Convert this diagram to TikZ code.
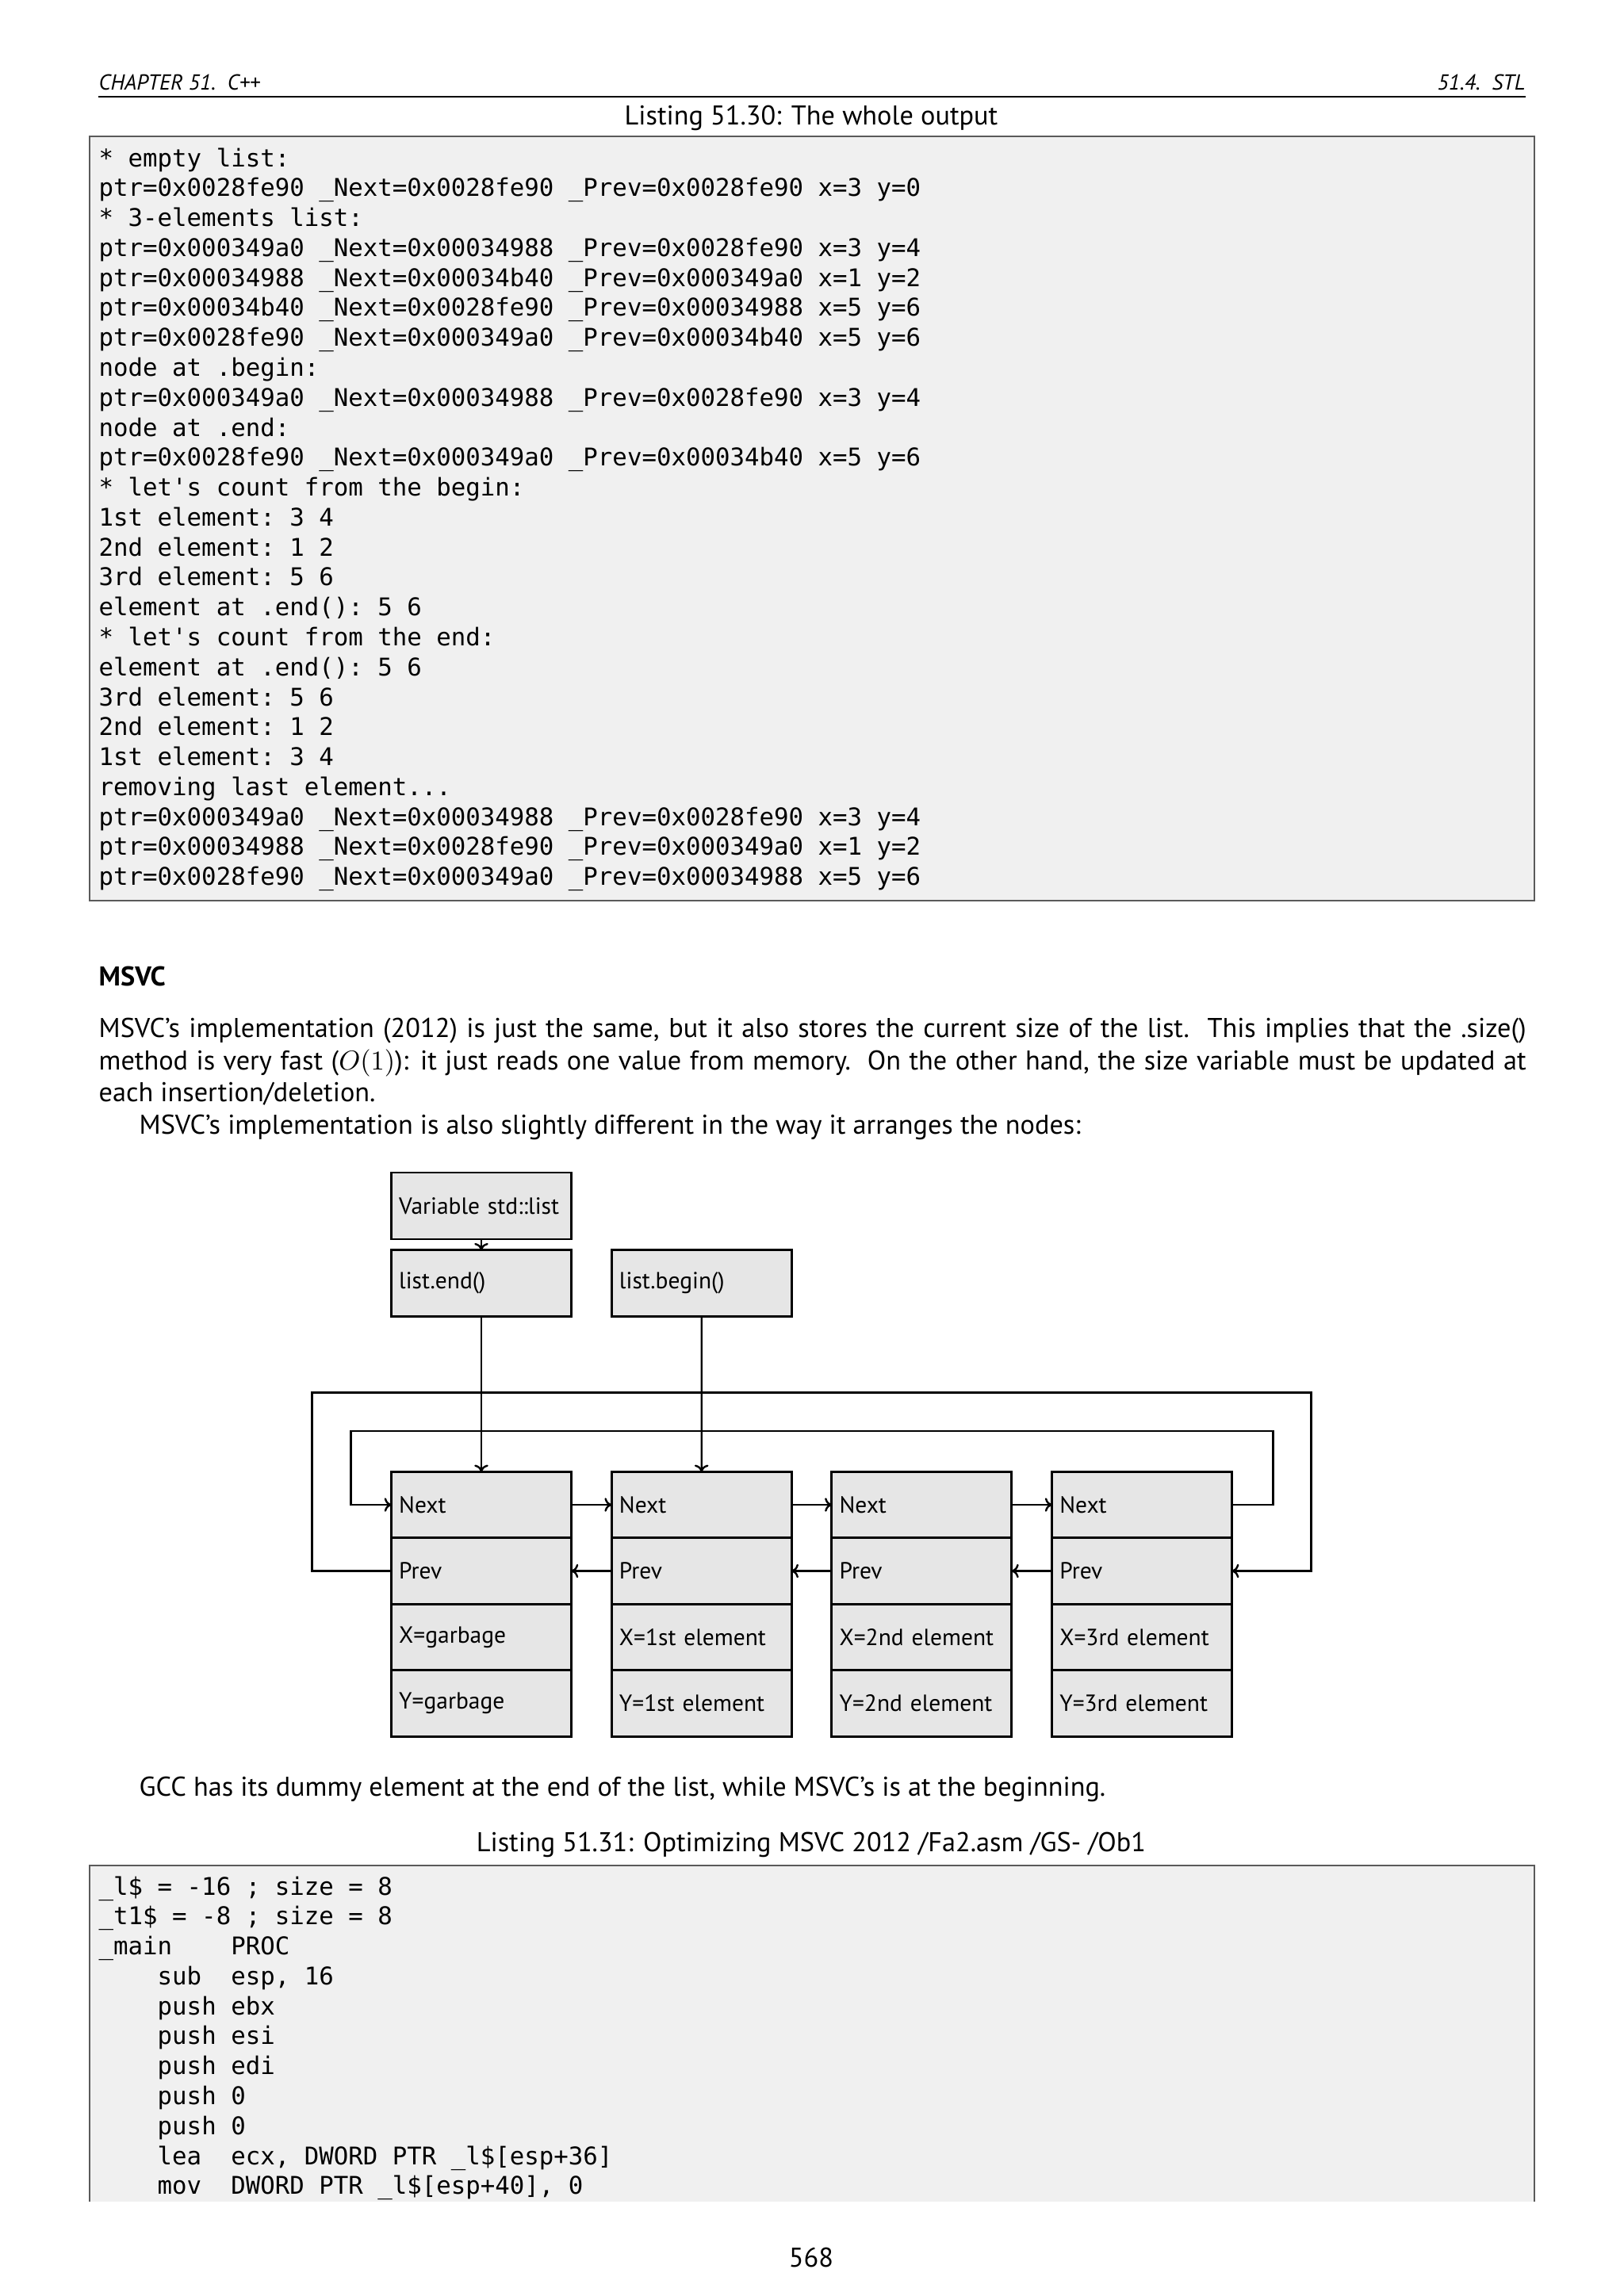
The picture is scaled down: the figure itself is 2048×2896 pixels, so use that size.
\documentclass[tikz,border=0pt]{standalone}
\usepackage{fontspec}
\setmainfont{PT Sans}
\setmonofont{DejaVu Sans Mono}
\usetikzlibrary{arrows.meta,positioning}
\definecolor{cellfill}{HTML}{E6E6E6}
\definecolor{codebg}{HTML}{F0F0F0}
\definecolor{frame}{HTML}{5A5A5A}

\begin{document}
\begin{tikzpicture}[x=0.010254cm,y=-0.010254cm,font=\fontsize{10}{11.84}\selectfont,
  cell/.style={draw,fill=cellfill,line width=0.85pt,minimum height=0.856cm,outer sep=0pt,
               text width=2.128cm,inner xsep=0.1cm,align=left,
               font=\fontsize{8.6}{10.5}\selectfont},
  ar/.style={-{To[length=0.9mm,width=1.8mm]},line width=0.7pt},
  codeln/.style={anchor=base west,inner sep=0,font=\ttfamily\fontsize{8.97}{11}\selectfont},
  txt/.style={anchor=base west,inner sep=0}]
\useasboundingbox[fill=white] (0,0) rectangle (2048,2896);

% running head
\node[txt,font=\footnotesize\itshape] (head) at (124,113) {CHAPTER 51.\ \ C++};
\node[anchor=base east,inner sep=0,font=\footnotesize\itshape] (sect) at (1924,113) {51.4.\ \ STL};
\draw[line width=0.5pt] (124,122) -- (1924,122);

% first listing
\node[anchor=base,inner sep=0] (cap1) at (1023,157) {Listing 51.30: The whole output};
\draw[fill=codebg,draw=frame,line width=0.6pt] (113,172) rectangle (1935,1136);
\foreach \ln [count=\i from 0] in {
  {* empty list:},
  {ptr=0x0028fe90 \_Next=0x0028fe90 \_Prev=0x0028fe90 x=3 y=0},
  {* 3-elements list:},
  {ptr=0x000349a0 \_Next=0x00034988 \_Prev=0x0028fe90 x=3 y=4},
  {ptr=0x00034988 \_Next=0x00034b40 \_Prev=0x000349a0 x=1 y=2},
  {ptr=0x00034b40 \_Next=0x0028fe90 \_Prev=0x00034988 x=5 y=6},
  {ptr=0x0028fe90 \_Next=0x000349a0 \_Prev=0x00034b40 x=5 y=6},
  {node at .begin:},
  {ptr=0x000349a0 \_Next=0x00034988 \_Prev=0x0028fe90 x=3 y=4},
  {node at .end:},
  {ptr=0x0028fe90 \_Next=0x000349a0 \_Prev=0x00034b40 x=5 y=6},
  {* let's count from the begin:},
  {1st element: 3 4},
  {2nd element: 1 2},
  {3rd element: 5 6},
  {element at .end(): 5 6},
  {* let's count from the end:},
  {element at .end(): 5 6},
  {3rd element: 5 6},
  {2nd element: 1 2},
  {1st element: 3 4},
  {removing last element.{}.{}.},
  {ptr=0x000349a0 \_Next=0x00034988 \_Prev=0x0028fe90 x=3 y=4},
  {ptr=0x00034988 \_Next=0x0028fe90 \_Prev=0x000349a0 x=1 y=2},
  {ptr=0x0028fe90 \_Next=0x000349a0 \_Prev=0x00034988 x=5 y=6}}
  \node[codeln] (out\i) at (124,{210+37.78*\i}) {\ln};

% MSVC section
\node[txt,font=\fontsize{10}{11.84}\selectfont\bfseries] (msvc) at (124,1243) {MSVC};
\node[anchor=north west,inner sep=0,text width=18.457cm,align=justify] (para) at (124,1279.6)
  {\strut MSVC's implementation (2012) is just the same, but it also stores the current size
   of the list.\ \ This implies that the .size()\linebreak method is very fast ($O(1)$): it just
   reads one value from memory.\ \ On the other hand, the size variable must be updated
   at\linebreak each insertion/deletion.};
\node[txt] (para2) at (175,1430) {MSVC's implementation is also slightly different in the way it arranges the nodes:};

% the diagram
\node[cell,minimum height=0.861cm] (var) at (607,1521) {Variable std::list};
\node[cell,below=0.14cm of var] (lend) {list.end()};
\node[cell,right=0.52cm of lend] (lbegin) {list.begin()};
\foreach \i/\xv/\yv in {0/X=garbage/Y=garbage,1/X=1st element/Y=1st element,
                        2/X=2nd element/Y=2nd element,3/X=3rd element/Y=3rd element}{
  \node[cell] (next\i) at ({607+277.7*\i},1898) {Next};
  \node[cell,below=0pt of next\i] (prev\i) {Prev};
  \node[cell,below=0pt of prev\i] (xval\i) {\xv};
  \node[cell,below=0pt of xval\i] (yval\i) {\yv};
}
\draw[ar] (var) -- (lend);
\draw[ar] (lend) -- (next0);
\draw[ar] (lbegin) -- (next1);
\foreach \a/\b in {0/1,1/2,2/3}{
  \draw[ar] (next\a) -- (next\b);
  \draw[ar] (prev\b) -- (prev\a);
}
\draw[ar] (next3.east) -- ++(52,0) -- ++(0,-93) -- ++(-1163,0) -- ++(0,93) -- (next0.west);
\draw[ar] (prev0.west) -- ++(-100,0) -- ++(0,-225) -- ++(1260,0) -- ++(0,225) -- (prev3.east);

\node[txt] (gcc) at (175,2265) {GCC has its dummy element at the end of the list, while MSVC's is at the beginning.};

% second listing
\node[anchor=base,inner sep=0] (cap2) at (1023,2335) {Listing 51.31: Optimizing MSVC 2012 /Fa2.asm /GS- /Ob1};
\fill[codebg] (113,2353) rectangle (1935,2777);
\draw[draw=frame,line width=0.6pt] (113,2777) -- (113,2353) -- (1935,2353) -- (1935,2777);
\foreach \ln [count=\i from 0] in {
  {\_l\$ = -16 ; size = 8},
  {\_t1\$ = -8 ; size = 8},
  {\_main~~~~PROC},
  {~~~~sub~~esp, 16},
  {~~~~push ebx},
  {~~~~push esi},
  {~~~~push edi},
  {~~~~push 0},
  {~~~~push 0},
  {~~~~lea~~ecx, DWORD PTR \_l\$[esp+36]},
  {~~~~mov~~DWORD PTR \_l\$[esp+40], 0}}
  \node[codeln] (asm\i) at (124,{2390+37.78*\i}) {\ln};

\node[anchor=base,inner sep=0] (pageno) at (1023,2859) {568};
\end{tikzpicture}
\end{document}
